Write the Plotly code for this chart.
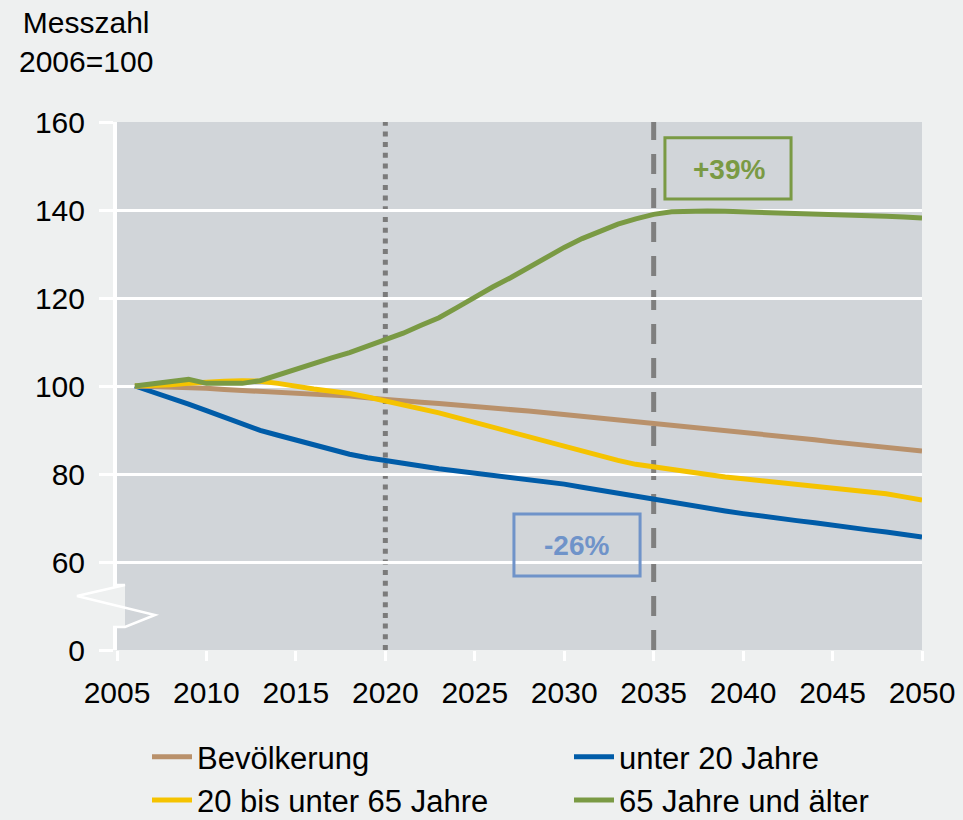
import plotly.graph_objects as go

# ---------------- data ----------------
years = list(range(2006, 2051))

bevoelkerung = [100.0, 99.9, 99.7, 99.6, 99.5, 99.2, 99.0, 98.8, 98.6, 98.4,
                98.2, 98.0, 97.7, 97.3, 96.9, 96.6, 96.3, 96.0, 95.7, 95.3,
                95.0, 94.7, 94.3, 93.9, 93.5, 93.2, 92.8, 92.4, 92.0, 91.6,
                91.2, 90.8, 90.4, 90.0, 89.5, 89.1, 88.7, 88.3, 87.8, 87.3,
                86.9, 86.5, 86.1, 85.7, 85.2]

unter20 = [100.0, 98.7, 97.3, 95.9, 94.4, 92.9, 91.3, 89.9, 88.8, 87.7,
           86.7, 85.6, 84.5, 83.7, 83.0, 82.3, 81.8, 81.2, 80.7, 80.3,
           79.8, 79.4, 78.9, 78.3, 77.7, 77.0, 76.3, 75.6, 74.9, 74.2,
           73.5, 72.8, 72.1, 71.6, 71.0, 70.4, 69.9, 69.4, 68.9, 68.3,
           67.8, 67.3, 66.8, 66.3, 65.7]

mittel = [100.0, 100.1, 100.3, 100.6, 100.9, 101.1, 101.2, 101.1, 100.6, 99.9,
          99.3, 98.8, 98.3, 97.5, 96.6, 95.8, 94.9, 93.9, 92.8, 91.7,
          90.6, 89.5, 88.5, 87.4, 86.4, 85.2, 84.1, 83.1, 82.2, 81.6,
          80.9, 80.3, 79.8, 79.3, 78.9, 78.5, 78.1, 77.7, 77.3, 76.8,
          76.4, 75.9, 75.5, 74.8, 74.1]

senioren = [100.0, 100.5, 101.0, 101.5, 100.6, 100.5, 100.6, 101.2, 102.5, 104.0,
            105.2, 106.4, 107.6, 109.0, 110.5, 112.0, 113.8, 115.5, 117.8, 120.2,
            122.5, 124.6, 127.0, 129.4, 131.5, 133.5, 135.3, 136.8, 138.0, 139.0,
            139.6, 139.8, 139.8, 139.7, 139.6, 139.5, 139.4, 139.3, 139.1, 139.0,
            138.9, 138.8, 138.6, 138.4, 138.2]

series_names = ["Bevölkerung", "unter 20 Jahre", "20 bis unter 65 Jahre", "65 Jahre und älter"]
series_colors = ["#b9916b", "#005ca8", "#f5c300", "#7a9a44"]

x_ticks = list(range(2005, 2051, 5))
y_ticks = [40, 60, 80, 100, 120, 140, 160]
y_tick_labels = ["0", "60", "80", "100", "120", "140", "160"]

vline_years = [2020, 2035]
label_39 = "+39%"
label_26 = "-26%"

# ---------------- figure ----------------
FONT = "Liberation Sans, Arial, sans-serif"
PAPER = "#eef0f0"
PLOT = "#d1d5d9"
FS = 30

fig = go.Figure()

data = [bevoelkerung, unter20, mittel, senioren]
legend_of = ["legend", "legend2", "legend", "legend2"]
ranks = [1, 1, 2, 2]
draw_order = [1, 0, 2, 3]  # blue at bottom ... green on top
for i in draw_order:
    fig.add_trace(go.Scatter(
        x=years, y=data[i], mode="lines", name=series_names[i],
        line=dict(color=series_colors[i], width=5),
        legend=legend_of[i], legendrank=ranks[i],
    ))

W, H = 963, 820
L, R, T, B = 117, 41, 122, 170

# vertical reference lines
fig.add_shape(type="line", x0=vline_years[0], x1=vline_years[0], y0=40, y1=160,
              xref="x", yref="y", line=dict(color="#7b7b7b", width=5, dash="5px,5.7px"), layer="below")
fig.add_shape(type="line", x0=vline_years[1], x1=vline_years[1], y0=40, y1=160,
              xref="x", yref="y", line=dict(color="#7f7f7f", width=5, dash="20px,14px"), layer="below")

# annotation boxes
fig.add_shape(type="rect", x0=2035.63, x1=2042.68, y0=142.5, y1=156.4,
              xref="x", yref="y", line=dict(color="#7a9a44", width=3))
fig.add_annotation(x=2039.2, y=149.3, xref="x", yref="y", text="<b>%s</b>" % label_39,
                   showarrow=False, font=dict(family=FONT, size=28, color="#7a9a44"))
fig.add_shape(type="rect", x0=2027.19, x1=2034.24, y0=56.8, y1=70.9,
              xref="x", yref="y", line=dict(color="#6f93c9", width=3))
fig.add_annotation(x=2030.7, y=63.8, xref="x", yref="y", text="<b>%s</b>" % label_26,
                   showarrow=False, font=dict(family=FONT, size=28, color="#6f93c9"))

# axis break symbol (paper coords from pixel)
def px(xp):
    return (xp - L) / (W - L - R)

def py(yp):
    return (H - B - yp) / (H - T - B)

fig.add_shape(type="rect", xref="paper", yref="paper",
              x0=px(112), x1=px(125), y0=py(627), y1=py(586),
              fillcolor=PAPER, line=dict(width=0), layer="above")
path = "M %f,%f L %f,%f L %f,%f L %f,%f L %f,%f L %f,%f" % (
    px(113), py(585), px(125), py(585), px(77), py(596),
    px(155), py(615), px(125), py(627), px(113), py(627))
fig.add_shape(type="path", xref="paper", yref="paper", path=path,
              line=dict(color="white", width=2.5), layer="above")

# y axis title
fig.add_annotation(x=px(86), y=py(42), xref="paper", yref="paper",
                   xanchor="center", yanchor="middle",
                   text="Messzahl<br>2006=100", showarrow=False, align="center",
                   font=dict(family=FONT, size=FS, color="black"))

legend_common = dict(orientation="v", xanchor="left", yanchor="top",
                     xref="container", yref="container",
                     font=dict(family=FONT, size=31), bgcolor="rgba(0,0,0,0)",
                     tracegroupgap=0, itemwidth=40, traceorder="normal")

fig.update_layout(
    width=W, height=H,
    margin=dict(l=L, r=R, t=T, b=B, autoexpand=False),
    paper_bgcolor=PAPER, plot_bgcolor=PLOT,
    font=dict(family=FONT, size=FS, color="black"),
    showlegend=True,
    legend=dict(x=147 / W, y=1 - 730 / H, **legend_common),
    legend2=dict(x=569 / W, y=1 - 730 / H, **legend_common),
    xaxis=dict(range=[2005, 2050], tickmode="array", tickvals=x_ticks,
               showgrid=False, zeroline=False, showline=False,
               ticks="outside", ticklen=10, tickwidth=3, tickcolor="white",
               ticklabelstandoff=6,
               tickfont=dict(family=FONT, size=FS)),
    yaxis=dict(range=[40, 160], tickmode="array", tickvals=y_ticks, ticktext=y_tick_labels,
               showgrid=True, gridcolor="white", gridwidth=3, zeroline=False,
               showline=True, linecolor="white", linewidth=4,
               ticks="outside", ticklen=14, tickwidth=3, tickcolor="white",
               ticklabelstandoff=8,
               tickfont=dict(family=FONT, size=FS)),
)

fig.write_html("out.html", config={"displayModeBar": False},
               post_script="document.body.style.margin='0';")
